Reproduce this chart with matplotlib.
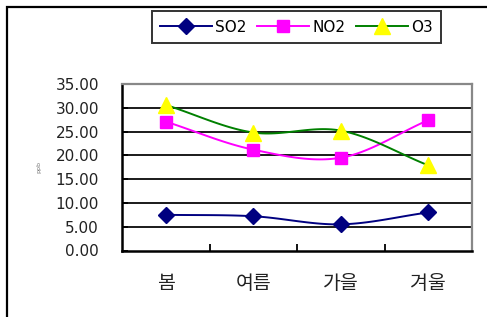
import matplotlib
matplotlib.use("Agg")
import matplotlib.pyplot as plt
import numpy as np
from matplotlib.patches import Rectangle

plt.rcParams['font.family'] = ['DejaVu Sans', 'Noto Sans CJK KR']

# data
seasons = ["봄", "여름", "가을", "겨울"]
so2 = [7.5, 7.2, 5.5, 8.0]
no2 = [27.1, 21.2, 19.5, 27.4]
o3 = [30.6, 24.8, 25.2, 17.9]
y_ticks = [0, 5, 10, 15, 20, 25, 30, 35]


def smooth(xs, ys, n=30):
    # Catmull-Rom style smoothing, like Excel's "smoothed line"
    xs = np.asarray(xs, float)
    ys = np.asarray(ys, float)
    px = np.concatenate([[2 * xs[0] - xs[1]], xs, [2 * xs[-1] - xs[-2]]])
    py = np.concatenate([[2 * ys[0] - ys[1]], ys, [2 * ys[-1] - ys[-2]]])
    outx, outy = [], []
    t = np.linspace(0, 1, n)
    for i in range(1, len(px) - 2):
        for arr, out in ((px, outx), (py, outy)):
            p0, p1, p2, p3 = arr[i - 1], arr[i], arr[i + 1], arr[i + 2]
            out.extend(0.5 * ((2 * p1) + (-p0 + p2) * t
                              + (2 * p0 - 5 * p1 + 4 * p2 - p3) * t ** 2
                              + (-p0 + 3 * p1 - 3 * p2 + p3) * t ** 3))
    return outx, outy


W, H = 487, 317
fig = plt.figure(figsize=(W / 100, H / 100), dpi=100)
fig.patches.append(Rectangle((7 / W, -0.1), 1.2, 1 - 7 / H + 0.1,
                             transform=fig.transFigure, fill=False,
                             edgecolor="black", linewidth=1.6))

ax = fig.add_axes([122 / W, 1 - 250.5 / H, 350 / W, 166.5 / H])
x = np.arange(len(seasons))

series = [
    ("SO2", so2, "#000080", "D", "#000080", 8),
    ("NO2", no2, "#FF00FF", "s", "#FF00FF", 9),
    ("O3", o3, "#008000", "^", "#FFFF00", 11),
]
for name, vals, lc, mk, mc, ms in series:
    sx, sy = smooth(x, vals)
    ax.plot(sx, sy, color=lc, linewidth=1.4, zorder=3)
    ax.plot(x, vals, linestyle="none", marker=mk, markersize=ms,
            markerfacecolor=mc, markeredgecolor=mc, zorder=4)
    ax.plot([], [], color=lc, linewidth=1.4, marker=mk, markersize=ms,
            markerfacecolor=mc, markeredgecolor=mc, label=name)

ax.set_xlim(-0.5, 3.5)
ax.set_ylim(0, 35)
ax.set_yticks(y_ticks)
ax.set_yticklabels(["%.2f" % v for v in y_ticks], fontsize=11, color="#222222")
for v in y_ticks[1:-1]:
    ax.axhline(v, color="#1a1a1a", linewidth=1.4, zorder=1)

ax.set_xticks([0.5, 1.5, 2.5, 3.5])
ax.set_xticklabels([])
ax.set_xticks(x, minor=True)
ax.set_xticklabels(seasons, minor=True, fontsize=14,
                   family=['Noto Sans CJK KR'], color="#222222")
ax.tick_params(axis="x", which="major", direction="in", length=5, width=1.3)
ax.tick_params(axis="x", which="minor", length=0, pad=16.5)
ax.tick_params(axis="y", direction="in", length=4, width=1.3, pad=16.5)

for s in ["left", "bottom"]:
    ax.spines[s].set_color("black")
    ax.spines[s].set_linewidth(1.8)
for s in ["top", "right"]:
    ax.spines[s].set_color("#888888")
    ax.spines[s].set_linewidth(1.6)

ax.set_ylabel("ppb", fontsize=4.5, color="#777777", labelpad=10)

leg = fig.legend(loc="center", bbox_to_anchor=(296.5 / W, 1 - 27 / H), ncol=3,
                 fontsize=11, frameon=True, fancybox=False, handlelength=3.4,
                 handletextpad=0.2, columnspacing=0.7, borderpad=0.55)
leg.get_frame().set_edgecolor("black")
leg.get_frame().set_linewidth(1.4)

fig.savefig("out.png", dpi=100)
